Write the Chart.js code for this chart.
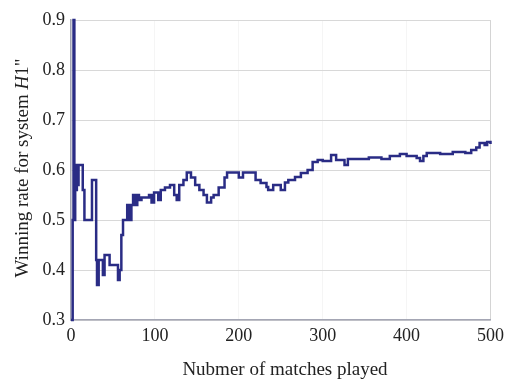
<!DOCTYPE html>
<html>
<head>
<meta charset="utf-8">
<script src="https://cdn.jsdelivr.net/npm/chart.js@4/dist/chart.umd.min.js"></script>
<style>
  html, body { margin: 0; padding: 0; background: #fff; }
  #wrap { width: 509px; height: 382px; }
</style>
</head>
<body>
<div id="wrap"><canvas id="rateChart"></canvas></div>
<script>
// match number where the winning rate changes, and the new rate
var matches = [0, 2, 3, 4, 5, 6, 7, 8, 9, 14, 16, 25, 30, 31, 33, 38, 40, 46, 56, 58,
  60, 62, 67, 70, 72, 74, 77, 79, 81, 84, 93, 96, 99, 104, 107, 112, 118, 123, 126, 129,
  134, 138, 143, 148, 153, 158, 162, 167, 170, 176, 183, 186, 200, 205, 217, 220, 226, 233, 235, 241,
  250, 255, 259, 267, 274, 282, 288, 294, 300, 310, 316, 326, 330, 340, 355, 370, 380, 392, 400, 412,
  416, 420, 424, 440, 455, 470, 477, 483, 487, 493, 496, 500];
var winRate = [0.30, 0.50, 0.90, 0.50, 0.60, 0.56, 0.61, 0.57, 0.61, 0.56, 0.50, 0.58, 0.42, 0.37, 0.42, 0.39, 0.43, 0.41, 0.38, 0.40,
  0.47, 0.50, 0.53, 0.50, 0.53, 0.55, 0.53, 0.55, 0.54, 0.545, 0.55, 0.535, 0.555, 0.54, 0.56, 0.565, 0.57, 0.55, 0.54, 0.57,
  0.58, 0.595, 0.585, 0.57, 0.56, 0.55, 0.535, 0.545, 0.55, 0.565, 0.585, 0.595, 0.585, 0.595, 0.595, 0.58, 0.574, 0.566, 0.56, 0.57,
  0.56, 0.575, 0.58, 0.586, 0.594, 0.60, 0.616, 0.62, 0.618, 0.63, 0.62, 0.61, 0.622, 0.622, 0.625, 0.622, 0.628, 0.632, 0.628, 0.624,
  0.618, 0.628, 0.634, 0.632, 0.636, 0.634, 0.64, 0.645, 0.654, 0.65, 0.656, 0.652];
var xTicks = [0, 100, 200, 300, 400, 500];
var yTicks = [0.3, 0.4, 0.5, 0.6, 0.7, 0.8, 0.9];

var serif = '"Liberation Serif", "Times New Roman", serif';

// axis titles drawn by hand so "H1" can be italic
var axisTitles = {
  id: 'axisTitles',
  afterDraw(chart) {
    const ctx = chart.ctx;
    ctx.save();
    ctx.fillStyle = '#222';
    ctx.textBaseline = 'alphabetic';
    // x title
    ctx.font = '19px ' + serif;
    ctx.textAlign = 'center';
    ctx.fillText('Nubmer of matches played', 285, 375);
    // y title
    const parts = [
      { t: 'Winning rate for system ', f: '19px ' + serif },
      { t: 'H', f: 'italic 19px ' + serif },
      { t: '1"', f: '19px ' + serif }
    ];
    let total = 0;
    parts.forEach(p => { ctx.font = p.f; p.w = ctx.measureText(p.t).width; total += p.w; });
    ctx.translate(28, 168);
    ctx.rotate(-Math.PI / 2);
    ctx.textAlign = 'left';
    let x = -total / 2;
    parts.forEach(p => { ctx.font = p.f; ctx.fillText(p.t, x, 0); x += p.w; });
    ctx.restore();
  }
};

var points = matches.map((m, i) => ({ x: m, y: winRate[i] }));

new Chart(document.getElementById('rateChart'), {
  type: 'line',
  data: {
    datasets: [{
      data: points,
      borderColor: '#2a2c85',
      borderWidth: 2.5,
      pointRadius: 0,
      stepped: true,
      fill: false,
      clip: 4
    }]
  },
  options: {
    responsive: true,
    maintainAspectRatio: false,
    animation: false,
    layout: { padding: { top: 20, right: 15, left: 0, bottom: 0 } },
    plugins: { legend: { display: false }, tooltip: { enabled: false } },
    scales: {
      x: {
        type: 'linear',
        min: 0, max: 500,
        afterBuildTicks: scale => { scale.ticks = xTicks.map(v => ({ value: v })); },
        afterFit: scale => { scale.height = 62; },
        grid: {
          color: c => c.tick && c.tick.value === 500 ? '#d4d4d4' : 'rgba(0,0,0,0.04)',
          drawTicks: false
        },
        border: { color: '#a4a6b4', width: 1.5 },
        ticks: { color: '#222', font: { family: serif, size: 18 }, padding: 5, maxRotation: 0 }
      },
      y: {
        min: 0.3, max: 0.9,
        afterBuildTicks: scale => { scale.ticks = yTicks.map(v => ({ value: v })); },
        afterFit: scale => { scale.width = 71; },
        grid: { color: '#d8d8d8', drawTicks: false },
        border: { color: '#a4a6b4', width: 1.5 },
        ticks: {
          color: '#222', font: { family: serif, size: 18 }, padding: 6,
          callback: v => v.toFixed(1)
        }
      }
    }
  },
  plugins: [axisTitles]
});
</script>
</body>
</html>
